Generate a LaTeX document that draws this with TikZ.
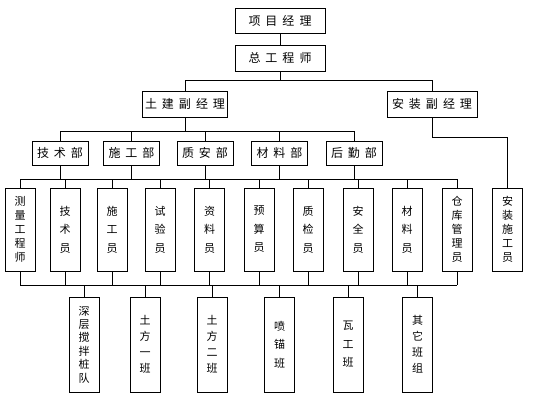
\documentclass[tikz,border=0pt]{standalone}
\usepackage{fontspec}
\newfontfamily\cjk{Noto Sans CJK SC}
\newcommand{\chgap}{\hspace{5pt}}
\begin{document}
\begin{tikzpicture}[x=1pt,y=-1pt, line width=0.9pt,
  box/.style={draw, inner sep=0pt, align=center, font=\cjk\fontsize{12}{14}\selectfont},
  hbox/.style={box, minimum width=#1, minimum height=26},
  dbox/.style={box, minimum width=56, minimum height=24},
  vbox/.style={box, minimum width=30, minimum height=83},
  wbox/.style={box, minimum width=30, minimum height=95},
  vthree/.style={font=\cjk\fontsize{11}{18.5}\selectfont},
  vfour/.style={font=\cjk\fontsize{11}{16}\selectfont},
  vfive/.style={font=\cjk\fontsize{11}{14}\selectfont},
  vsix/.style={font=\cjk\fontsize{11}{13.4}\selectfont}
]
\fill[white] (0,0) rectangle (552,420);
\useasboundingbox (0,0) rectangle (552,420);

% top levels
\node[hbox=90, minimum height=25] (pm) at (280,20.5) {项\chgap 目\chgap 经\chgap 理};
\node[hbox=90] (ce) at (280,58) {总\chgap 工\chgap 程\chgap 师};
\node[hbox=85] (tj) at (185,104) {土\chgap 建\chgap 副\chgap 经\chgap 理};
\node[hbox=90] (az) at (432,104) {安\chgap 装\chgap 副\chgap 经\chgap 理};

% departments
\node[dbox] (d1) at (60,153) {技\chgap 术\chgap 部};
\node[dbox] (d2) at (131.5,153) {施\chgap 工\chgap 部};
\node[dbox] (d3) at (205,153) {质\chgap 安\chgap 部};
\node[dbox] (d4) at (279.5,153) {材\chgap 料\chgap 部};
\node[dbox] (d5) at (354,153) {后\chgap 勤\chgap 部};

% staff
\node[vbox, vfive] (r1) at (20,229.5) {测\\量\\工\\程\\师};
\node[vbox, vthree] (r2) at (65,229.5) {技\\术\\员};
\node[vbox, vthree] (r3) at (112,229.5) {施\\工\\员};
\node[vbox, vthree] (r4) at (160,229.5) {试\\验\\员};
\node[vbox, vthree] (r5) at (209.5,229.5) {资\\料\\员};
\node[vbox, vthree] (r6) at (259,229.5) {预\\算\\员};
\node[vbox, vthree] (r7) at (308,229.5) {质\\检\\员};
\node[vbox, vthree] (r8) at (358,229.5) {安\\全\\员};
\node[vbox, vthree] (r9) at (407,229.5) {材\\料\\员};
\node[vbox, vfive] (r10) at (457,229.5) {仓\\库\\管\\理\\员};
\node[vbox, vfive] (r11) at (507.5,229.5) {安\\装\\施\\工\\员};

% teams
\node[wbox, vsix] (t1) at (84,344.5) {深\\层\\搅\\拌\\桩\\队};
\node[wbox, vfour] (t2) at (145,344.5) {土\\方\\一\\班};
\node[wbox, vfour] (t3) at (212,344.5) {土\\方\\二\\班};
\node[wbox, vthree] (t4) at (279.5,344.5) {喷\\锚\\班};
\node[wbox, vthree] (t5) at (348,344.5) {瓦\\工\\班};
\node[wbox, vfour] (t6) at (417.5,344.5) {其\\它\\班\\组};

% bus coordinates
\coordinate (b1) at (0,80);
\coordinate (b2) at (0,131);
\coordinate (b3) at (0,179);
\coordinate (b4) at (0,137);
\coordinate (b5) at (0,285);

% connectors
\draw (pm) -- (ce);
\draw (ce.south) -- (ce.south |- b1);
\draw (tj.north) -- (tj.north |- b1) -- (az.north |- b1) -- (az.north);

\draw (tj.south) -- (tj.south |- b2);
\draw (d1.north |- b2) -- (d5.north |- b2);
\foreach \d in {d1,d2,d3,d4,d5} {
  \draw (\d.north) -- (\d.north |- b2);
  \draw (\d.south) -- (\d.south |- b3);
}
\draw (r1.north |- b3) -- (r10.north |- b3);
\foreach \r in {r1,r2,r3,r4,r5,r6,r7,r8,r9,r10} {
  \draw (\r.north) -- (\r.north |- b3);
  \draw (\r.south) -- (\r.south |- b5);
}
\draw (az.south) -- (az.south |- b4) -| (r11.north);

\draw (r1.south |- b5) -- (r10.south |- b5);
\foreach \t in {t1,t2,t3,t4,t5,t6} {
  \draw (\t.north) -- (\t.north |- b5);
}
\end{tikzpicture}
\end{document}
